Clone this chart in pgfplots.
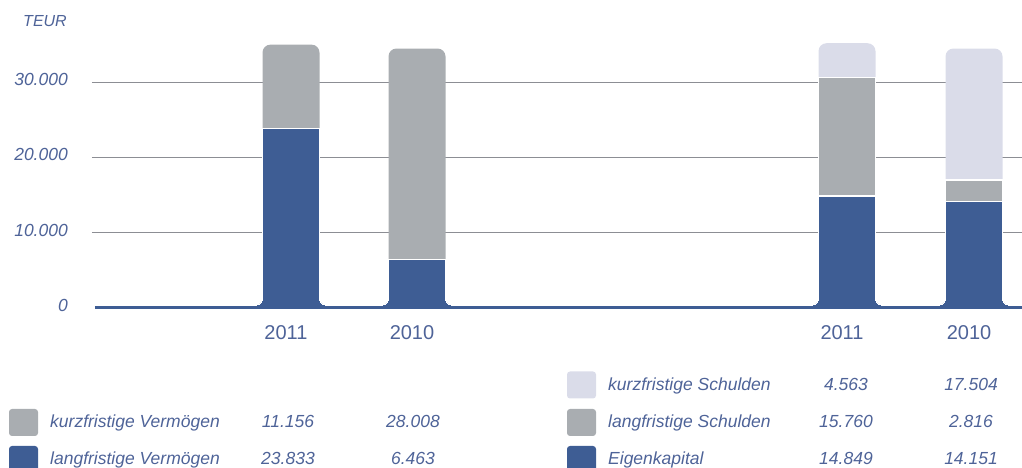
\documentclass[border=0pt]{standalone}
\usepackage{fontspec}
\setmainfont{Liberation Sans}
\usepackage{pgfplots}
\pgfplotsset{compat=1.18}
\definecolor{cblue}{RGB}{62,93,148}
\definecolor{cgray}{RGB}{169,173,177}
\definecolor{clav}{RGB}{218,220,233}
\definecolor{ctext}{RGB}{78,99,152}
\definecolor{cgrid}{RGB}{140,142,148}
\newcommand{\lf}{\fontsize{17.5}{20}\selectfont\itshape\color{ctext}}
\begin{document}
\begin{tikzpicture}[x=1pt,y=1pt]
\useasboundingbox (0,0) rectangle (1022,468);
\begin{axis}[
  at={(92pt,160pt)}, anchor=south west,
  scale only axis, width=930pt, height=271pt,
  xmin=92, xmax=1022, ymin=0, ymax=36000,
  clip=false,
  axis line style={draw=none},
  major tick length=0pt,
  scaled y ticks=false,
  ytick={10000,20000,30000},
  extra y ticks={0},
  extra y tick style={grid=none},
  ymajorgrids,
  grid style={cgrid, line width=1.2pt},
  xtick={291,417,847,974},
  xticklabels={2011,2010,2011,2010},
  xticklabel style={font=\fontsize{20}{20}\selectfont, text=ctext, inner sep=0pt, anchor=base, xshift=-5pt, yshift=-32pt},
  yticklabel style={font=\fontsize{17.5}{20}\selectfont\itshape, text=ctext, inner sep=0pt, anchor=base east, xshift=-24pt, yshift=-3.5pt,
    /pgf/number format/1000 sep={.}, /pgf/number format/assume math mode=true},
]
% full bar heights (top segment colour, rounded top)
\addplot[ybar, bar shift=0pt, bar width=57, fill=cgray, draw=none, rounded corners=8pt]
  coordinates {(291,34989) (417,34471)};
\addplot[ybar, bar shift=0pt, bar width=57, fill=clav, draw=none, rounded corners=8pt]
  coordinates {(847,35172) (974,34471)};
% langfristige Schulden (cumulative with Eigenkapital)
\addplot[ybar, bar shift=0pt, bar width=57, fill=cgray, draw=white, line width=1.6pt]
  coordinates {(847,30609) (974,16967)};
% langfristige Vermoegen / Eigenkapital
\addplot[ybar, bar shift=0pt, bar width=57, fill=cblue, draw=white, line width=1.6pt]
  coordinates {(291,23833) (417,6463) (847,14849) (974,14151)};
% foot of the bars (fillets)
\addplot[ybar, bar shift=0pt, bar width=71, fill=cblue, draw=none]
  coordinates {(291,1260) (417,1260) (847,1260) (974,1260)};
\addplot[white, only marks, mark=*, mark size=7pt, mark options={fill=white, draw=white, line width=0pt}]
  coordinates {(255.5,1300) (326.5,1300) (381.5,1300) (452.5,1300)
               (811.5,1300) (882.5,1300) (938.5,1300) (1009.5,1300)};
% baseline
\addplot[cblue, line width=3pt] coordinates {(95,0) (1022,0)};
\end{axis}
% unit label
\node[anchor=base east, inner sep=0pt, font=\fontsize{16}{18}\selectfont\itshape, text=ctext] at (67,441) {TEUR};
% legend left
\node[fill=cgray, rounded corners=3pt, minimum width=29pt, minimum height=27pt, inner sep=0pt] at (23.5,45.5) {};
\node[fill=cblue, rounded corners=3pt, minimum width=29pt, minimum height=27pt, inner sep=0pt] at (23.5,8.5) {};
\node[anchor=base west, inner sep=0pt] at (50,40) {\lf kurzfristige Vermögen};
\node[anchor=base west, inner sep=0pt] at (50,3) {\lf langfristige Vermögen};
\node[anchor=base, inner sep=0pt] at (288,40) {\lf 11.156};
\node[anchor=base, inner sep=0pt] at (413,40) {\lf 28.008};
\node[anchor=base, inner sep=0pt] at (288,3) {\lf 23.833};
\node[anchor=base, inner sep=0pt] at (413,3) {\lf 6.463};
% legend right
\node[fill=clav, rounded corners=3pt, minimum width=29pt, minimum height=27pt, inner sep=0pt] at (581.5,83) {};
\node[fill=cgray, rounded corners=3pt, minimum width=29pt, minimum height=27pt, inner sep=0pt] at (581.5,45.5) {};
\node[fill=cblue, rounded corners=3pt, minimum width=29pt, minimum height=27pt, inner sep=0pt] at (581.5,8.5) {};
\node[anchor=base west, inner sep=0pt] at (608,77) {\lf kurzfristige Schulden};
\node[anchor=base west, inner sep=0pt] at (608,40) {\lf langfristige Schulden};
\node[anchor=base west, inner sep=0pt] at (608,3) {\lf Eigenkapital};
\node[anchor=base, inner sep=0pt] at (846,77) {\lf 4.563};
\node[anchor=base, inner sep=0pt] at (971,77) {\lf 17.504};
\node[anchor=base, inner sep=0pt] at (846,40) {\lf 15.760};
\node[anchor=base, inner sep=0pt] at (971,40) {\lf 2.816};
\node[anchor=base, inner sep=0pt] at (846,3) {\lf 14.849};
\node[anchor=base, inner sep=0pt] at (971,3) {\lf 14.151};
\end{tikzpicture}
\end{document}
